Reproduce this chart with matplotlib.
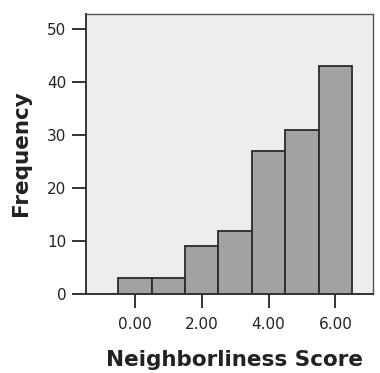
import numpy as np
import matplotlib
matplotlib.use("Agg")
import matplotlib.pyplot as plt

# histogram data
scores = [0, 1, 2, 3, 4, 5, 6]
counts = [3, 3, 9, 12, 27, 31, 43]
x_ticks = [0, 2, 4, 6]
x_tick_labels = ["0.00", "2.00", "4.00", "6.00"]
y_ticks = [0, 10, 20, 30, 40, 50]

plt.rcParams['font.family'] = ['DejaVu Sans']

fig = plt.figure(figsize=(3.8, 3.73), dpi=100)
ax = fig.add_axes([0.226, 0.211, 0.756, 0.751])
ax.set_facecolor('#ededed')

ax.bar(scores, counts, width=1.0, color='#a2a2a2', edgecolor='#2a2a2a', linewidth=1.3)

ax.set_xlim(-1.47, 7.13)
ax.set_ylim(0, 52.7)
ax.set_xticks(x_ticks)
ax.set_xticklabels(x_tick_labels)
ax.set_yticks(y_ticks)

ax.tick_params(axis='both', direction='out', length=10, width=1.4, color='#333333',
               labelsize=11, labelcolor='#222222')
ax.tick_params(axis='x', pad=6)
ax.tick_params(axis='y', pad=4)
for side in ['left', 'bottom']:
    ax.spines[side].set_color('#333333')
    ax.spines[side].set_linewidth(1.4)
for side in ['top', 'right']:
    ax.spines[side].set_color('#555555')
    ax.spines[side].set_linewidth(1.0)

ax.set_xlabel('Neighborliness Score', fontsize=15.5, fontweight='bold', color='#222222')
ax.set_ylabel('Frequency', fontsize=15.5, fontweight='bold', color='#222222')
ax.xaxis.set_label_coords(0.516, -0.2)
ax.yaxis.set_label_coords(-0.19, 0.504)

fig.savefig('out.png', dpi=100, facecolor='white')
